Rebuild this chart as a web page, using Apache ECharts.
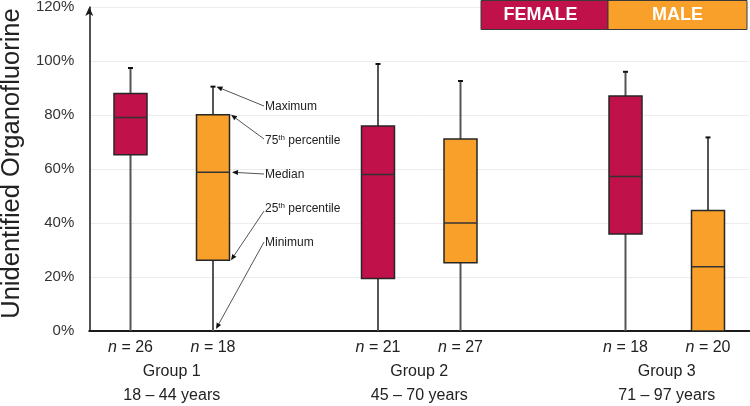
<!DOCTYPE html>
<html>
<head>
<meta charset="utf-8">
<script src="https://cdn.jsdelivr.net/npm/echarts@6/dist/echarts.min.js"></script>
<style>
html,body{margin:0;padding:0;background:#fff;}
#chart{width:750px;height:406px;}
</style>
</head>
<body>
<div id="chart"></div>
<script>
// ---- data ----
const groups = ['Group 1', 'Group 2', 'Group 3'];
const ageRanges = ['18 – 44 years', '45 – 70 years', '71 – 97 years'];
const sexes = ['FEMALE', 'MALE'];
const sampleSizes = [[26, 18], [21, 27], [18, 20]];
// [min, Q1, median, Q3, max] in %
const femaleStats = [[0, 65.3, 79.1, 88.0, 97.4], [0, 19.4, 58.0, 75.9, 98.9], [0, 35.9, 57.2, 87.0, 96.0]];
const maleStats = [[0, 26.2, 58.8, 80.1, 90.5], [0, 25.3, 40.0, 71.1, 92.6], [0, 0, 23.8, 44.6, 71.7]];
const yTicks = [0, 20, 40, 60, 80, 100, 120];
const annotationLabels = ['Maximum', '75{s|th} percentile', 'Median', '25{s|th} percentile', 'Minimum'];

// ---- styles ----
const FONT = '"Liberation Sans", Arial, sans-serif';
const sexColors = ['#C1114B', '#F9A02A'];

// ---- build slots: female, male, gap per group ----
const slotNames = [];
const slotLabels = [];
const boxData = [];
groups.forEach((g, gi) => {
  [femaleStats, maleStats].forEach((stats, si) => {
    const idx = slotNames.length;
    slotNames.push(g + ' ' + sexes[si]);
    slotLabels.push(String(sampleSizes[gi][si]));
    boxData.push([idx].concat(stats[gi]).concat([si]));
  });
  if (gi < groups.length - 1) { slotNames.push('gap' + gi); slotLabels.push(''); }
});
// group label axis (boundary positions)
const groupAxis = [];
for (let i = 0; i <= slotNames.length; i++) groupAxis.push('');
groups.forEach((g, gi) => { groupAxis[gi * 3 + 1] = g + '\n' + ageRanges[gi]; });

const chart = echarts.init(document.getElementById('chart'), null, {renderer: 'canvas'});

function renderBox(params, api) {
  const x = api.value(0);
  const mn = api.value(1), q1 = api.value(2), md = api.value(3), q3 = api.value(4), mx = api.value(5);
  const si = api.value(6);
  const w = api.size([1, 0])[0] * 0.4;
  const pMin = api.coord([x, mn]), pQ1 = api.coord([x, q1]), pMd = api.coord([x, md]);
  const pQ3 = api.coord([x, q3]), pMax = api.coord([x, mx]);
  const cx = pMin[0];
  return {
    type: 'group',
    children: [
      {type: 'line', shape: {x1: cx, y1: pMin[1], x2: cx, y2: pMax[1]}, style: {stroke: '#555', lineWidth: 2}},
      {type: 'line', shape: {x1: cx - 2.5, y1: pMax[1], x2: cx + 2.5, y2: pMax[1]}, style: {stroke: '#111', lineWidth: 2}},
      {type: 'rect', shape: {x: cx - w / 2, y: pQ3[1], width: w, height: pQ1[1] - pQ3[1]},
        style: {fill: sexColors[si], stroke: '#262626', lineWidth: 1.5}},
      {type: 'line', shape: {x1: cx - w / 2, y1: pMd[1], x2: cx + w / 2, y2: pMd[1]}, style: {stroke: '#333', lineWidth: 1.5}}
    ]
  };
}

chart.setOption({
  animation: false,
  backgroundColor: '#fff',
  grid: {left: 89.25, top: 7, width: 660, height: 324, containLabel: false, outerBoundsMode: 'none'},
  xAxis: [{
    type: 'category',
    data: slotNames,
    position: 'bottom',
    axisLine: {show: true, lineStyle: {color: '#1a1a1a', width: 2}},
    axisTick: {show: false},
    axisLabel: {
      interval: 0, margin: 9, fontSize: 16, fontFamily: FONT, color: '#222',
      formatter: (v, i) => slotLabels[i] ? '{i|n} = ' + slotLabels[i] : '',
      rich: {i: {fontStyle: 'italic', fontSize: 16, fontFamily: FONT, color: '#222'}}
    },
    splitLine: {show: false}
  }, {
    type: 'category',
    data: groupAxis,
    boundaryGap: false,
    position: 'bottom',
    axisLine: {show: false},
    axisTick: {show: false},
    axisLabel: {interval: 0, margin: 29, fontSize: 16, lineHeight: 24, fontFamily: FONT, color: '#222'},
    splitLine: {show: false}
  }],
  yAxis: {
    type: 'value',
    min: yTicks[0], max: yTicks[yTicks.length - 1], interval: yTicks[1] - yTicks[0],
    name: 'Unidentified Organofluorine',
    nameLocation: 'middle',
    nameGap: 63,
    nameTextStyle: {fontSize: 25.5, fontFamily: FONT, color: '#222', padding: [0, 0, 0, 11]},
    axisLine: {show: true, symbol: ['none', 'arrow'], symbolSize: [6, 9], symbolOffset: [0, 0], lineStyle: {color: '#1a1a1a', width: 1.5}},
    axisTick: {show: false},
    axisLabel: {formatter: '{value}%', fontSize: 15, fontFamily: FONT, color: '#333', margin: 15},
    splitLine: {show: true, lineStyle: {color: '#ececec', width: 1}}
  },
  series: [{
    type: 'custom',
    renderItem: renderBox,
    encode: {x: 0, y: [1, 2, 3, 4, 5]},
    data: boxData,
    z: 3
  }]
});

// ---- legend + annotations (graphic) ----
function arrow(x1, y1, x2, y2) {
  const dx = x2 - x1, dy = y2 - y1, L = Math.sqrt(dx * dx + dy * dy);
  const ux = dx / L, uy = dy / L, px = -uy, py = ux;
  const bx = x2 - ux * 6, by = y2 - uy * 6;
  return [
    {type: 'line', shape: {x1: x1, y1: y1, x2: bx, y2: by}, style: {stroke: '#555', lineWidth: 1}, z: 10},
    {type: 'polygon', shape: {points: [[x2, y2], [bx + px * 2.5, by + py * 2.5], [bx - px * 2.5, by - py * 2.5]]}, style: {fill: '#111'}, z: 10}
  ];
}

const refSlot = 1; // Group 1 male
const st = maleStats[0];
const toPx = v => chart.convertToPixel({seriesIndex: 0}, [refSlot, v]);
const halfW = chart.convertToPixel({xAxisIndex: 0}, 1) - chart.convertToPixel({xAxisIndex: 0}, 0);
const cx = toPx(0)[0];
const boxR = cx + halfW * 0.2;
const labelX = 265;
const labelYs = [107, 141, 175, 209, 243];
const targets = [
  [cx + 3.5, toPx(st[4])[1]],
  [boxR + 1.5, toPx(st[3])[1]],
  [boxR + 2.5, toPx(st[2])[1]],
  [boxR + 1.5, toPx(st[1])[1]],
  [cx + 3, toPx(st[0])[1] - 2]
];
const startYOff = [-1, -2, -1, 2, -1];
const graphics = [];
annotationLabels.forEach((t, i) => {
  graphics.push({
    type: 'text', x: labelX, y: labelYs[i], z: 10,
    style: {text: t, fontSize: 12, fontFamily: FONT, fill: '#222', verticalAlign: 'middle', align: 'left',
      rich: {s: {fontSize: 8, fontFamily: FONT, fill: '#222', verticalAlign: 'top', padding: [0, 0, 6, 0]}}}
  });
  arrow(labelX - 1, labelYs[i] + startYOff[i], targets[i][0], targets[i][1]).forEach(e => graphics.push(e));
});
// legend
const legendX = [481, 608], legendW = [127, 139];
sexes.forEach((s, i) => {
  graphics.push({type: 'rect', shape: {x: legendX[i], y: 0.5, width: legendW[i], height: 29}, style: {fill: sexColors[i], stroke: '#3a3a3a', lineWidth: 1}, z: 10});
  graphics.push({type: 'text', x: legendX[i] + legendW[i] / 2 - (i === 0 ? 4 : 0), y: 15.5, z: 11,
    style: {text: s, fontSize: 18, fontWeight: 'bold', fontFamily: FONT, fill: '#fff', align: 'center', verticalAlign: 'middle'}});
});
chart.setOption({graphic: graphics});
</script>
</body>
</html>
